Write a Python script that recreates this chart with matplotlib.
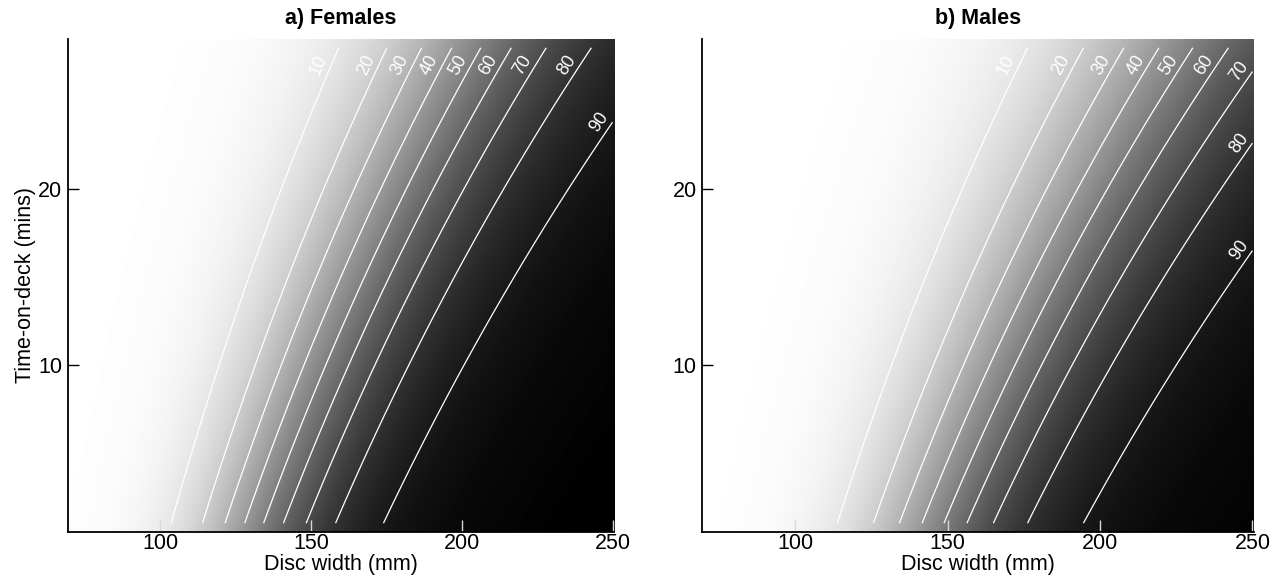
import numpy as np
import matplotlib
matplotlib.use('Agg')
import matplotlib.pyplot as plt

plt.rcParams['font.family'] = ['Liberation Sans', 'DejaVu Sans']

# ---- data ----
panel_titles = ['a) Females', 'b) Males']
# fitted logistic surface: logit(p) = intercept + b_logdw * ln(DW) + b_time * T
intercepts = [-41.42, -40.89]
slopes_log_dw = [8.48, 8.20]
slopes_time = [-0.1348, -0.1328]
contour_levels = [10, 20, 30, 40, 50, 60, 70, 80, 90]   # percent
dw_range = [70, 250]      # disc width (mm) of the prediction grid
time_range = [1, 28]      # time-on-deck (mins) of the prediction grid
x_ticks = [100, 150, 200, 250]
y_ticks = [10, 20]
x_label = 'Disc width (mm)'
y_label = 'Time-on-deck (mins)'


def prob(dw, t, a, b, c):
    return 1.0 / (1.0 + np.exp(-(a + b * np.log(dw) + c * t)))


def contour_dw(L, t, a, b, c):
    return np.exp((L - a - c * t) / b)


def contour_t(L, dw, a, b, c):
    return (L - a - b * np.log(dw)) / c


FS = 15.5

fig = plt.figure(figsize=(12.83, 5.78), dpi=100)
positions = [[0.053, 0.0796, 0.4256, 0.853], [0.5472, 0.0796, 0.4302, 0.853]]

xlo, xhi = dw_range[0] - 0.5, dw_range[1] + 0.5
ylo, yhi = time_range[0] - 0.5, time_range[1] + 0.5

for i in range(2):
    a, b, c = intercepts[i], slopes_log_dw[i], slopes_time[i]
    ax = fig.add_axes(positions[i])

    # smooth background image
    xi = np.linspace(xlo, xhi, 600)
    yi = np.linspace(ylo, yhi, 300)
    XI, YI = np.meshgrid(xi, yi)
    ax.imshow(prob(XI, YI, a, b, c), extent=[xlo, xhi, ylo, yhi], origin='lower',
              aspect='auto', cmap='gray_r', vmin=0, vmax=1, interpolation='bilinear')

    # contour lines on the prediction grid
    xg = np.linspace(dw_range[0], dw_range[1], 400)
    yg = np.linspace(time_range[0], time_range[1], 300)
    XG, YG = np.meshgrid(xg, yg)
    ax.contour(XG, YG, prob(XG, YG, a, b, c) * 100, levels=contour_levels,
               colors='white', linewidths=0.9)

    ax.set_xlim(xlo, xhi)
    ax.set_ylim(ylo, yhi)
    ax.set_xticks(x_ticks)
    ax.set_yticks(y_ticks)
    ax.tick_params(axis='x', direction='in', length=9, width=1, color='#d8d8d8',
                   labelsize=FS, pad=1)
    ax.tick_params(axis='y', direction='in', length=8, width=1, color='black',
                   labelsize=FS, pad=4)
    for s in ['top', 'right']:
        ax.spines[s].set_visible(False)
    for s in ['left', 'bottom']:
        ax.spines[s].set_linewidth(1.3)
        ax.spines[s].set_color('black')
    ax.set_xlabel(x_label, fontsize=FS, labelpad=0)
    if i == 0:
        ax.set_ylabel(y_label, fontsize=FS, labelpad=2)
    ax.set_title(panel_titles[i], fontsize=FS, fontweight='bold', pad=11)

    # contour labels near the upper end of each line
    td = ax.transData
    inv = td.inverted()
    for lev in contour_levels:
        p = lev / 100.0
        L = np.log(p / (1 - p))
        dw_top = contour_dw(L, time_range[1], a, b, c)
        if dw_top <= dw_range[1]:
            ex, ey = td.transform((dw_top, time_range[1]))
            t_anchor = inv.transform((ex, ey - 17))[1]
        else:
            t_anchor = contour_t(L, dw_range[1], a, b, c)
        dw_anchor = contour_dw(L, t_anchor, a, b, c)
        p1 = td.transform((contour_dw(L, t_anchor - 0.5, a, b, c), t_anchor - 0.5))
        p2 = td.transform((contour_dw(L, t_anchor + 0.5, a, b, c), t_anchor + 0.5))
        ang = np.degrees(np.arctan2(p2[1] - p1[1], p2[0] - p1[0]))
        axp, ayp = td.transform((dw_anchor, t_anchor))
        lx, ly = inv.transform((axp - 13, ayp))
        ax.text(lx, ly, str(lev), rotation=ang, rotation_mode='anchor',
                ha='center', va='center', color='white', fontsize=13)

fig.savefig('out.png', dpi=100)
